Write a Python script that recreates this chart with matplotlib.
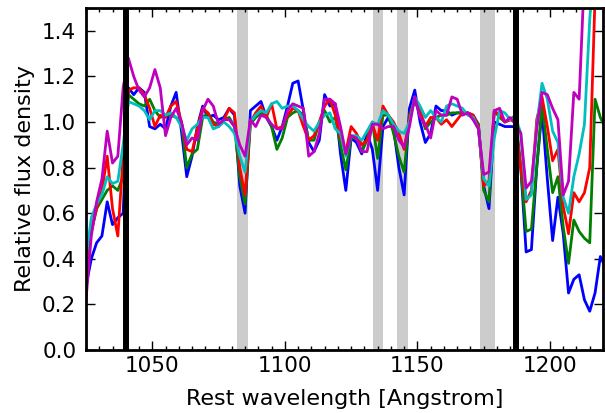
import numpy as np
import matplotlib
matplotlib.use("Agg")
import matplotlib.pyplot as plt
from matplotlib.ticker import MultipleLocator

# rest wavelength grid, Angstrom
wave = np.arange(1025, 1223, 2)

flux_blue = [
    0.28, 0.40, 0.47, 0.50, 0.65, 0.55, 0.58, 0.60,
    1.15, 1.12, 1.15, 1.13, 0.98, 0.97, 0.99,
    0.97, 1.07, 1.13, 0.96, 0.76, 0.85, 0.98, 1.07, 1.02, 1.03, 1.01, 1.02, 1.06, 1.03, 0.72, 0.60, 1.05,
    1.07, 1.09, 1.02, 0.98, 0.92, 0.98, 1.07, 1.17, 1.18, 1.05, 0.91, 0.87, 0.92, 1.12, 1.07, 1.08, 0.86,
    0.70, 0.93, 0.91, 0.86, 0.95, 0.88, 0.70, 0.98, 1.02, 0.97, 0.80, 0.68, 1.06, 1.14, 1.00, 0.91, 0.95,
    1.07, 1.05, 1.05, 1.03, 1.04, 1.04, 1.04, 1.03, 0.99, 0.72, 0.62, 1.00, 0.99, 0.98, 0.98, 0.98,
    0.80, 0.43, 0.44, 0.80, 1.05, 0.75, 0.48, 0.67, 0.51, 0.25, 0.31, 0.33, 0.22, 0.17, 0.25, 0.41, 0.36,
]
flux_green = [
    0.35, 0.52, 0.62, 0.66, 0.70, 0.72, 0.70, 0.76,
    1.12, 1.10, 1.08, 1.07, 1.10, 1.05, 1.02,
    1.03, 1.03, 1.02, 1.00, 0.80, 0.86, 0.88, 1.02, 1.04, 1.00, 0.99, 1.01, 1.02, 0.98, 0.76, 0.64, 0.99,
    1.02, 1.04, 1.03, 0.98, 0.88, 0.93, 1.02, 1.04, 1.05, 1.03, 0.92, 0.92, 1.00, 1.05, 1.00, 1.02, 0.90,
    0.79, 0.93, 0.93, 0.87, 0.92, 1.00, 0.84, 1.03, 1.03, 0.95, 0.85, 0.78, 1.03, 1.09, 1.04, 0.97, 1.00,
    1.02, 1.03, 1.03, 1.04, 1.04, 1.04, 1.04, 1.02, 0.99, 0.70, 0.65, 1.05, 1.02, 1.00, 1.01, 1.03,
    0.80, 0.52, 0.53, 0.80, 1.08, 0.88, 0.69, 0.76, 0.54, 0.38, 0.57, 0.52, 0.49, 0.47, 1.10, 1.02, 0.97,
]
flux_red = [
    0.38, 0.52, 0.62, 0.70, 0.85, 0.62, 0.50, 0.85,
    1.14, 1.15, 1.15, 1.12, 1.06, 0.98, 1.03,
    1.02, 1.07, 1.09, 1.00, 0.88, 0.87, 0.97, 1.06, 1.04, 0.99, 0.98, 1.01, 1.06, 1.04, 0.80, 0.68, 1.00,
    1.04, 1.07, 1.02, 1.08, 0.97, 0.98, 1.03, 1.06, 1.05, 0.98, 0.92, 0.94, 1.00, 1.07, 1.10, 1.03, 0.93,
    0.87, 0.98, 0.95, 0.90, 0.92, 0.99, 0.92, 1.07, 1.03, 1.00, 0.95, 0.88, 1.02, 1.10, 1.05, 0.98, 1.02,
    1.02, 0.99, 1.01, 0.98, 1.01, 1.04, 1.04, 1.03, 0.98, 0.72, 0.74, 1.05, 1.03, 1.00, 1.01, 1.00,
    0.80, 0.65, 0.70, 1.01, 1.11, 0.98, 0.83, 0.88, 0.63, 0.51, 0.69, 0.65, 0.69, 0.80, 1.55, 1.80, 1.90,
]
flux_cyan = [
    0.40, 0.58, 0.64, 0.68, 0.76, 0.73, 0.74, 0.90,
    1.09, 1.08, 1.07, 1.05, 1.01, 1.05, 1.05,
    1.03, 1.04, 1.02, 0.98, 0.92, 0.97, 0.99, 1.02, 1.02, 0.97, 0.98, 1.00, 0.98, 0.95, 0.85, 0.78, 1.00,
    1.03, 1.05, 1.04, 1.08, 1.09, 1.06, 1.07, 1.07, 1.05, 1.01, 0.98, 0.96, 1.00, 1.03, 1.04, 0.97, 0.95,
    0.85, 0.94, 0.94, 0.92, 0.96, 1.00, 0.99, 1.05, 1.03, 0.99, 0.96, 0.95, 1.00, 1.11, 1.07, 1.02, 1.05,
    1.02, 1.00, 1.07, 1.08, 1.07, 1.06, 1.03, 1.02, 0.97, 0.75, 0.72, 0.93, 1.05, 1.04, 1.01, 1.02,
    0.95, 0.66, 0.68, 0.98, 1.17, 1.10, 0.96, 0.91, 0.67, 0.60, 0.76, 0.86, 0.99, 1.45, 1.80, 1.90, 2.00,
]
flux_magenta = [
    0.22, 0.50, 0.65, 0.75, 0.96, 0.82, 0.85, 1.15,
    1.28, 1.20, 1.14, 1.11, 1.15, 1.23, 1.15,
    0.94, 1.02, 1.06, 1.00, 0.90, 0.93, 0.92, 1.05, 1.10, 1.07, 0.99, 1.01, 1.01, 0.98, 0.90, 0.85, 1.01,
    0.98, 1.03, 1.02, 0.99, 0.97, 0.97, 1.05, 1.08, 1.07, 1.06, 0.85, 0.87, 0.95, 1.10, 1.10, 1.08, 0.98,
    0.86, 0.94, 0.93, 0.87, 0.87, 0.99, 0.99, 0.97, 0.98, 0.98, 0.92, 0.89, 0.98, 1.11, 1.02, 0.99, 0.93,
    1.05, 1.03, 1.03, 1.11, 1.10, 1.03, 1.04, 1.01, 0.97, 0.77, 0.78, 1.05, 1.06, 1.00, 1.02, 0.99,
    0.95, 0.71, 0.74, 0.97, 1.13, 1.12, 1.06, 1.01, 0.68, 0.74, 1.13, 1.10, 1.65, 2.00, 2.10, 2.20, 2.30,
]

# masked regions (grey) and window edges (black)
masked_bands = [(1082.0, 1086.0), (1133.2, 1137.2), (1142.3, 1146.3), (1173.5, 1179.3)]
window_edges = [1040.2, 1187.3]

series = [
    ("b", flux_blue),
    ("g", flux_green),
    ("r", flux_red),
    ("c", flux_cyan),
    ("m", flux_magenta),
]

fig = plt.figure(figsize=(6.05, 4.13), dpi=100)
ax = fig.add_axes([86 / 605, 63 / 413, 517 / 605, 342 / 413])

for lo, hi in masked_bands:
    ax.axvspan(lo, hi, color="0.8", lw=0, zorder=1)

for color, flux in series:
    ax.plot(wave, flux, color=color, lw=2, zorder=2)

for edge in window_edges:
    ax.axvline(edge, color="k", lw=4.3, zorder=3)

ax.set_xlim(1025, 1220)
ax.set_ylim(0, 1.5)
ax.xaxis.set_major_locator(MultipleLocator(50))
ax.xaxis.set_minor_locator(MultipleLocator(5))
ax.yaxis.set_major_locator(MultipleLocator(0.2))
ax.tick_params(which="both", direction="in", top=True, right=True, labelsize=15.5, width=1)
ax.tick_params(which="major", length=6.5)
ax.tick_params(which="minor", length=3.2)
ax.tick_params(axis="x", which="major", pad=4.5)
ax.tick_params(axis="y", which="major", pad=7)
for spine in ax.spines.values():
    spine.set_linewidth(2)

ax.set_xlabel("Rest wavelength [Angstrom]", fontsize=16, labelpad=9)
ax.set_ylabel("Relative flux density", fontsize=16, labelpad=5)

fig.savefig("out.png", dpi=100)
plt.close(fig)
